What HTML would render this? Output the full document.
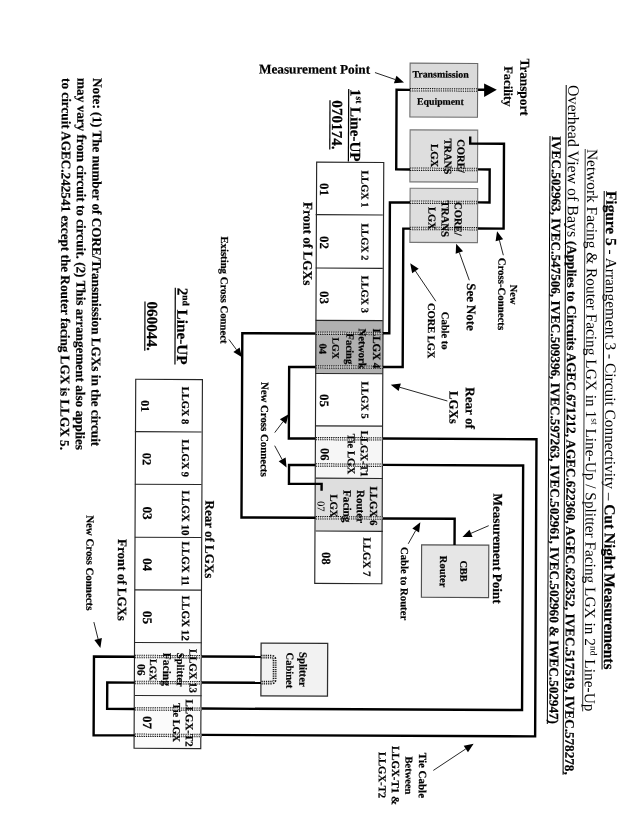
<!DOCTYPE html>
<html><head><meta charset="utf-8"><title>Figure 5</title>
<style>
html,body{margin:0;padding:0;background:#fff;}
body{width:636px;height:836px;overflow:hidden;}
svg{display:block;font-family:"Liberation Serif",serif;filter:grayscale(1) blur(0.3px);}
text{white-space:pre;}
</style></head><body>
<svg width="636" height="836" viewBox="0 0 636 836">
<rect width="636" height="836" fill="#fff"/>
<g transform="rotate(0.26 318.0 418.0)">
<rect x="408.51" y="62.73" width="67.60" height="53.80" fill="#dadada" stroke="#6a6a6a" stroke-width="1.1"/>
<rect x="408.81" y="129.43" width="67.60" height="52.00" fill="#dedede" stroke="#777" stroke-width="1.1"/>
<rect x="409.08" y="187.83" width="67.60" height="54.10" fill="#dedede" stroke="#777" stroke-width="1.1"/>
<rect x="422.19" y="544.38" width="67.20" height="52.40" fill="#e6e6e6" stroke="#505050" stroke-width="1.15"/>
<rect x="262.14" y="643.40" width="66.60" height="52.80" fill="#f2f2f2" stroke="#2e2e2e" stroke-width="1.25"/>
<rect x="315.38" y="320.36" width="67.10" height="53.10" fill="#b0b0b0" stroke="none" stroke-width="1"/>
<rect x="315.85" y="425.86" width="67.10" height="52.30" fill="#f6f6f6" stroke="none" stroke-width="1"/>
<rect x="316.09" y="478.16" width="67.10" height="52.90" fill="#dedede" stroke="none" stroke-width="1"/>
<rect x="136.04" y="643.28" width="66.70" height="53.00" fill="#fafafa" stroke="none" stroke-width="1"/>
<rect x="136.28" y="696.28" width="66.70" height="52.80" fill="#fbfbfb" stroke="none" stroke-width="1"/>
<rect x="315.50" y="162.16" width="67.10" height="421.30" fill="none" stroke="#262626" stroke-width="1.15"/>
<path d="M314.78,214.66 L381.88,214.66" fill="none" stroke="#262626" stroke-width="1.1" stroke-linejoin="miter" stroke-linecap="butt" />
<path d="M315.02,268.06 L382.12,268.06" fill="none" stroke="#262626" stroke-width="1.1" stroke-linejoin="miter" stroke-linecap="butt" />
<path d="M315.26,320.36 L382.36,320.36" fill="none" stroke="#262626" stroke-width="1.1" stroke-linejoin="miter" stroke-linecap="butt" />
<path d="M315.50,373.46 L382.60,373.46" fill="none" stroke="#262626" stroke-width="1.1" stroke-linejoin="miter" stroke-linecap="butt" />
<path d="M315.74,425.86 L382.84,425.86" fill="none" stroke="#262626" stroke-width="1.1" stroke-linejoin="miter" stroke-linecap="butt" />
<path d="M315.97,478.16 L383.07,478.16" fill="none" stroke="#262626" stroke-width="1.1" stroke-linejoin="miter" stroke-linecap="butt" />
<path d="M316.21,531.06 L383.31,531.06" fill="none" stroke="#262626" stroke-width="1.1" stroke-linejoin="miter" stroke-linecap="butt" />
<rect x="135.56" y="380.08" width="66.70" height="369.00" fill="none" stroke="#262626" stroke-width="1.15"/>
<path d="M134.96,432.48 L201.66,432.48" fill="none" stroke="#262626" stroke-width="1.1" stroke-linejoin="miter" stroke-linecap="butt" />
<path d="M135.20,485.08 L201.90,485.08" fill="none" stroke="#262626" stroke-width="1.1" stroke-linejoin="miter" stroke-linecap="butt" />
<path d="M135.44,538.08 L202.14,538.08" fill="none" stroke="#262626" stroke-width="1.1" stroke-linejoin="miter" stroke-linecap="butt" />
<path d="M135.68,590.68 L202.38,590.68" fill="none" stroke="#262626" stroke-width="1.1" stroke-linejoin="miter" stroke-linecap="butt" />
<path d="M135.92,643.28 L202.62,643.28" fill="none" stroke="#262626" stroke-width="1.1" stroke-linejoin="miter" stroke-linecap="butt" />
<path d="M136.16,696.28 L202.86,696.28" fill="none" stroke="#262626" stroke-width="1.1" stroke-linejoin="miter" stroke-linecap="butt" />
<path d="M408.51,89.42 L395.09,89.42 L395.09,169.02 L408.87,169.02" fill="none" stroke="#000" stroke-width="2.4" stroke-linejoin="miter" stroke-linecap="butt" />
<path d="M476.11,89.06 L483.51,89.06" fill="none" stroke="#000" stroke-width="2.4" stroke-linejoin="miter" stroke-linecap="butt" />
<polygon points="482.58,82.65 495.31,88.99 482.64,96.15" fill="#000"/>
<path d="M476.47,168.65 L488.55,168.65 L488.55,201.65 L476.62,201.65" fill="none" stroke="#000" stroke-width="2.4" stroke-linejoin="miter" stroke-linecap="butt" />
<path d="M468.94,135.91 L468.94,142.94 L502.75,142.94 L502.75,227.82 L476.74,227.82" fill="none" stroke="#000" stroke-width="2.4" stroke-linejoin="miter" stroke-linecap="butt" />
<path d="M409.02,202.03 L388.92,202.03 L388.92,332.99 L382.41,332.99" fill="none" stroke="#000" stroke-width="2.4" stroke-linejoin="miter" stroke-linecap="butt" />
<path d="M409.14,228.20 L402.45,228.20 L402.45,366.66 L382.57,366.66" fill="none" stroke="#000" stroke-width="2.4" stroke-linejoin="miter" stroke-linecap="butt" />
<path d="M315.32,333.48 L241.93,333.48 L241.93,517.78 L316.15,517.78" fill="none" stroke="#000" stroke-width="2.4" stroke-linejoin="miter" stroke-linecap="butt" />
<path d="M315.47,367.07 L288.93,367.07 L288.93,438.57 L315.79,438.57" fill="none" stroke="#000" stroke-width="2.4" stroke-linejoin="miter" stroke-linecap="butt" />
<path d="M315.91,465.07 L289.26,465.07 L289.26,483.86 L321.91,483.86 L321.91,490.78" fill="none" stroke="#000" stroke-width="2.4" stroke-linejoin="miter" stroke-linecap="butt" />
<path d="M382.89,438.26 L536.57,438.26 L536.57,735.37 L203.04,735.37" fill="none" stroke="#000" stroke-width="2.4" stroke-linejoin="miter" stroke-linecap="butt" />
<path d="M383.01,464.59 L523.37,464.59 L523.37,709.10 L202.92,709.10" fill="none" stroke="#000" stroke-width="2.4" stroke-linejoin="miter" stroke-linecap="butt" />
<path d="M383.26,518.14 L455.11,518.14 L455.11,544.38" fill="none" stroke="#000" stroke-width="2.4" stroke-linejoin="miter" stroke-linecap="butt" />
<path d="M202.68,656.99 L262.08,656.99" fill="none" stroke="#000" stroke-width="2.4" stroke-linejoin="miter" stroke-linecap="butt" />
<path d="M202.80,682.99 L262.20,682.99" fill="none" stroke="#000" stroke-width="2.4" stroke-linejoin="miter" stroke-linecap="butt" />
<path d="M135.98,657.52 L95.06,657.52 L95.06,736.22 L136.34,736.22" fill="none" stroke="#000" stroke-width="2.4" stroke-linejoin="miter" stroke-linecap="butt" />
<path d="M136.10,683.49 L108.46,683.49 L108.46,709.79 L136.22,709.79" fill="none" stroke="#000" stroke-width="2.4" stroke-linejoin="miter" stroke-linecap="butt" />
<line x1="408.5" y1="89.3" x2="476.1" y2="89.3" stroke="#fff" stroke-width="3.4" opacity="0.4"/>
<line x1="408.5" y1="88.1" x2="476.1" y2="88.1" stroke="#111" stroke-width="1" stroke-dasharray="1.3 0.9"/>
<line x1="408.5" y1="90.5" x2="476.1" y2="90.5" stroke="#111" stroke-width="1" stroke-dasharray="1.3 0.9"/>
<line x1="408.5" y1="89.3" x2="476.1" y2="89.3" stroke="#333" stroke-width="1.2" stroke-dasharray="0.7 1.5" opacity="0.7"/>
<line x1="408.9" y1="168.8" x2="476.5" y2="168.8" stroke="#fff" stroke-width="3.4" opacity="0.4"/>
<line x1="408.9" y1="167.6" x2="476.5" y2="167.6" stroke="#111" stroke-width="1" stroke-dasharray="1.3 0.9"/>
<line x1="408.9" y1="170.0" x2="476.5" y2="170.0" stroke="#111" stroke-width="1" stroke-dasharray="1.3 0.9"/>
<line x1="408.9" y1="168.8" x2="476.5" y2="168.8" stroke="#333" stroke-width="1.2" stroke-dasharray="0.7 1.5" opacity="0.7"/>
<line x1="409.0" y1="201.8" x2="476.6" y2="201.8" stroke="#fff" stroke-width="3.4" opacity="0.4"/>
<line x1="409.0" y1="200.6" x2="476.6" y2="200.6" stroke="#111" stroke-width="1" stroke-dasharray="1.3 0.9"/>
<line x1="409.0" y1="203.0" x2="476.6" y2="203.0" stroke="#111" stroke-width="1" stroke-dasharray="1.3 0.9"/>
<line x1="409.0" y1="201.8" x2="476.6" y2="201.8" stroke="#333" stroke-width="1.2" stroke-dasharray="0.7 1.5" opacity="0.7"/>
<line x1="409.1" y1="228.0" x2="476.7" y2="228.0" stroke="#fff" stroke-width="3.4" opacity="0.4"/>
<line x1="409.1" y1="226.8" x2="476.7" y2="226.8" stroke="#111" stroke-width="1" stroke-dasharray="1.3 0.9"/>
<line x1="409.1" y1="229.2" x2="476.7" y2="229.2" stroke="#111" stroke-width="1" stroke-dasharray="1.3 0.9"/>
<line x1="409.1" y1="228.0" x2="476.7" y2="228.0" stroke="#333" stroke-width="1.2" stroke-dasharray="0.7 1.5" opacity="0.7"/>
<line x1="315.3" y1="333.2" x2="382.4" y2="333.2" stroke="#fff" stroke-width="3.4" opacity="0.4"/>
<line x1="315.3" y1="332.0" x2="382.4" y2="332.0" stroke="#111" stroke-width="1" stroke-dasharray="1.3 0.9"/>
<line x1="315.3" y1="334.4" x2="382.4" y2="334.4" stroke="#111" stroke-width="1" stroke-dasharray="1.3 0.9"/>
<line x1="315.3" y1="333.2" x2="382.4" y2="333.2" stroke="#333" stroke-width="1.2" stroke-dasharray="0.7 1.5" opacity="0.7"/>
<line x1="315.5" y1="366.9" x2="382.6" y2="366.9" stroke="#fff" stroke-width="3.4" opacity="0.4"/>
<line x1="315.5" y1="365.7" x2="382.6" y2="365.7" stroke="#111" stroke-width="1" stroke-dasharray="1.3 0.9"/>
<line x1="315.5" y1="368.1" x2="382.6" y2="368.1" stroke="#111" stroke-width="1" stroke-dasharray="1.3 0.9"/>
<line x1="315.5" y1="366.9" x2="382.6" y2="366.9" stroke="#333" stroke-width="1.2" stroke-dasharray="0.7 1.5" opacity="0.7"/>
<line x1="315.8" y1="438.6" x2="382.9" y2="438.6" stroke="#fff" stroke-width="3.4" opacity="0.4"/>
<line x1="315.8" y1="437.4" x2="382.9" y2="437.4" stroke="#111" stroke-width="1" stroke-dasharray="1.3 0.9"/>
<line x1="315.8" y1="439.8" x2="382.9" y2="439.8" stroke="#111" stroke-width="1" stroke-dasharray="1.3 0.9"/>
<line x1="315.8" y1="438.6" x2="382.9" y2="438.6" stroke="#333" stroke-width="1.2" stroke-dasharray="0.7 1.5" opacity="0.7"/>
<line x1="315.9" y1="465.0" x2="383.0" y2="465.0" stroke="#fff" stroke-width="3.4" opacity="0.4"/>
<line x1="315.9" y1="463.8" x2="383.0" y2="463.8" stroke="#111" stroke-width="1" stroke-dasharray="1.3 0.9"/>
<line x1="315.9" y1="466.2" x2="383.0" y2="466.2" stroke="#111" stroke-width="1" stroke-dasharray="1.3 0.9"/>
<line x1="315.9" y1="465.0" x2="383.0" y2="465.0" stroke="#333" stroke-width="1.2" stroke-dasharray="0.7 1.5" opacity="0.7"/>
<line x1="316.2" y1="517.7" x2="383.3" y2="517.7" stroke="#fff" stroke-width="3.4" opacity="0.4"/>
<line x1="316.2" y1="516.5" x2="383.3" y2="516.5" stroke="#111" stroke-width="1" stroke-dasharray="1.3 0.9"/>
<line x1="316.2" y1="518.9" x2="383.3" y2="518.9" stroke="#111" stroke-width="1" stroke-dasharray="1.3 0.9"/>
<line x1="316.2" y1="517.7" x2="383.3" y2="517.7" stroke="#333" stroke-width="1.2" stroke-dasharray="0.7 1.5" opacity="0.7"/>
<line x1="136.0" y1="657.3" x2="202.7" y2="657.3" stroke="#fff" stroke-width="3.4" opacity="0.4"/>
<line x1="136.0" y1="656.1" x2="202.7" y2="656.1" stroke="#111" stroke-width="1" stroke-dasharray="1.3 0.9"/>
<line x1="136.0" y1="658.5" x2="202.7" y2="658.5" stroke="#111" stroke-width="1" stroke-dasharray="1.3 0.9"/>
<line x1="136.0" y1="657.3" x2="202.7" y2="657.3" stroke="#333" stroke-width="1.2" stroke-dasharray="0.7 1.5" opacity="0.7"/>
<line x1="136.1" y1="683.3" x2="202.8" y2="683.3" stroke="#fff" stroke-width="3.4" opacity="0.4"/>
<line x1="136.1" y1="682.1" x2="202.8" y2="682.1" stroke="#111" stroke-width="1" stroke-dasharray="1.3 0.9"/>
<line x1="136.1" y1="684.5" x2="202.8" y2="684.5" stroke="#111" stroke-width="1" stroke-dasharray="1.3 0.9"/>
<line x1="136.1" y1="683.3" x2="202.8" y2="683.3" stroke="#333" stroke-width="1.2" stroke-dasharray="0.7 1.5" opacity="0.7"/>
<line x1="136.2" y1="709.7" x2="202.9" y2="709.7" stroke="#fff" stroke-width="3.4" opacity="0.4"/>
<line x1="136.2" y1="708.5" x2="202.9" y2="708.5" stroke="#111" stroke-width="1" stroke-dasharray="1.3 0.9"/>
<line x1="136.2" y1="710.9" x2="202.9" y2="710.9" stroke="#111" stroke-width="1" stroke-dasharray="1.3 0.9"/>
<line x1="136.2" y1="709.7" x2="202.9" y2="709.7" stroke="#333" stroke-width="1.2" stroke-dasharray="0.7 1.5" opacity="0.7"/>
<line x1="136.3" y1="736.1" x2="203.0" y2="736.1" stroke="#fff" stroke-width="3.4" opacity="0.4"/>
<line x1="136.3" y1="734.9" x2="203.0" y2="734.9" stroke="#111" stroke-width="1" stroke-dasharray="1.3 0.9"/>
<line x1="136.3" y1="737.3" x2="203.0" y2="737.3" stroke="#111" stroke-width="1" stroke-dasharray="1.3 0.9"/>
<line x1="136.3" y1="736.1" x2="203.0" y2="736.1" stroke="#333" stroke-width="1.2" stroke-dasharray="0.7 1.5" opacity="0.7"/>
<path d="M262.28,656.96 L272.28,656.91 Q275.68,656.89 275.70,660.29 L275.79,679.49 Q275.80,682.89 272.40,682.91 L262.40,682.96" fill="none" stroke="#111" stroke-width="3.8" stroke-dasharray="1.25 0.95"/>
<path d="M262.28,656.96 L272.28,656.91 Q275.68,656.89 275.70,660.29 L275.79,679.49 Q275.80,682.89 272.40,682.91 L262.40,682.96" fill="none" stroke="#f2f2f2" stroke-width="1.3" opacity="0.6"/>
<line x1="373.4" y1="72.3" x2="393.7" y2="79.2" stroke="#000" stroke-width="0.85"/>
<polygon points="402.5,82.2 392.4,82.9 394.9,75.5" fill="#000"/>
<line x1="502.6" y1="254.4" x2="498.6" y2="239.4" stroke="#000" stroke-width="0.85"/>
<polygon points="496.2,230.4 502.3,238.4 494.8,240.4" fill="#000"/>
<line x1="468.7" y1="279.6" x2="458.6" y2="251.9" stroke="#000" stroke-width="0.85"/>
<polygon points="455.4,243.2 462.3,250.6 454.9,253.2" fill="#000"/>
<line x1="435.3" y1="300.7" x2="414.7" y2="270.5" stroke="#000" stroke-width="0.85"/>
<polygon points="409.5,262.8 418.0,268.3 411.5,272.7" fill="#000"/>
<line x1="447.3" y1="400.4" x2="399.6" y2="386.9" stroke="#000" stroke-width="0.85"/>
<polygon points="390.6,384.4 400.7,383.2 398.5,390.7" fill="#000"/>
<line x1="228.6" y1="339.9" x2="236.2" y2="350.1" stroke="#000" stroke-width="0.85"/>
<polygon points="241.7,357.5 233.1,352.4 239.3,347.8" fill="#000"/>
<line x1="274.8" y1="432.8" x2="283.0" y2="421.9" stroke="#000" stroke-width="0.85"/>
<polygon points="288.6,414.4 286.1,424.2 279.9,419.5" fill="#000"/>
<line x1="274.8" y1="445.9" x2="282.3" y2="459.6" stroke="#000" stroke-width="0.85"/>
<polygon points="286.8,467.7 278.9,461.5 285.8,457.7" fill="#000"/>
<line x1="489.2" y1="524.9" x2="471.6" y2="532.6" stroke="#000" stroke-width="0.85"/>
<polygon points="463.0,536.3 470.0,529.0 473.1,536.2" fill="#000"/>
<line x1="408.8" y1="543.4" x2="416.2" y2="530.1" stroke="#000" stroke-width="0.85"/>
<polygon points="420.8,521.9 419.6,532.0 412.8,528.1" fill="#000"/>
<line x1="434.9" y1="769.9" x2="467.3" y2="748.2" stroke="#000" stroke-width="0.85"/>
<polygon points="475.1,743.1 469.5,751.5 465.2,745.0" fill="#000"/>
<line x1="94.8" y1="623.1" x2="99.1" y2="640.0" stroke="#000" stroke-width="0.85"/>
<polygon points="101.4,649.0 95.4,640.9 102.9,639.0" fill="#000"/>
<text transform="translate(605.17,189.69) rotate(90)" font-size="15.36" font-weight="bold" stroke="#000" stroke-width="0.2" textLength="54.7" lengthAdjust="spacingAndGlyphs" fill="#000">Figure 5</text>
<text transform="translate(605.17,244.44) rotate(90)" font-size="15.36" textLength="258.5" lengthAdjust="spacingAndGlyphs" fill="#000"> - Arrangement 3 - Circuit Connectivity – </text>
<text transform="translate(605.17,502.95) rotate(90)" font-size="15.36" font-weight="bold" stroke="#000" stroke-width="0.2" textLength="165.2" lengthAdjust="spacingAndGlyphs" fill="#000">Cut Night Measurements</text>
<path d="M603.17,189.69 L603.17,668.19" fill="none" stroke="#000" stroke-width="1.0" stroke-linejoin="miter" stroke-linecap="butt" />
<text transform="translate(585.98,147.78) rotate(90)" font-size="15.36" textLength="269.2" lengthAdjust="spacingAndGlyphs" fill="#000">Network Facing &amp; Router Facing LGX in 1</text>
<text transform="translate(591.51,416.99) rotate(90)" font-size="9.52" textLength="6.4" lengthAdjust="spacingAndGlyphs" fill="#000">st</text>
<text transform="translate(585.98,423.34) rotate(90)" font-size="15.36" textLength="221.4" lengthAdjust="spacingAndGlyphs" fill="#000"> Line-Up / Splitter Facing LGX in 2</text>
<text transform="translate(591.51,644.78) rotate(90)" font-size="9.52" textLength="9.5" lengthAdjust="spacingAndGlyphs" fill="#000">nd</text>
<text transform="translate(585.98,654.30) rotate(90)" font-size="15.36" textLength="55.9" lengthAdjust="spacingAndGlyphs" fill="#000"> Line-Up</text>
<path d="M583.98,147.78 L583.98,710.18" fill="none" stroke="#000" stroke-width="0.8" stroke-linejoin="miter" stroke-linecap="butt" />
<text transform="translate(566.69,83.87) rotate(90)" font-size="15.92" textLength="152.2" lengthAdjust="spacingAndGlyphs" fill="#000">Overhead View of Bays</text>
<text transform="translate(566.69,239.77) rotate(90)" font-size="13.16" font-weight="bold" stroke="#000" stroke-width="0.2" textLength="533.8" lengthAdjust="spacingAndGlyphs" fill="#000">(Applies to Circuits AGEC.671212, AGEC.622360, AGEC.622352, IVEC.517519, IVEC.578278,</text>
<path d="M564.69,83.88 L564.69,773.58" fill="none" stroke="#000" stroke-width="1.0" stroke-linejoin="miter" stroke-linecap="butt" />
<text transform="translate(550.72,134.94) rotate(90)" font-size="13.16" font-weight="bold" stroke="#000" stroke-width="0.2" textLength="588.0" lengthAdjust="spacingAndGlyphs" fill="#000">IVEC.502963, IVEC.547506, IVEC.509396, IVEC.597263, IVEC.502961, IVEC.502960 &amp; IWEC.502947)</text>
<path d="M548.72,134.94 L548.72,722.94" fill="none" stroke="#000" stroke-width="1.0" stroke-linejoin="miter" stroke-linecap="butt" />
<text transform="translate(91.46,79.12) rotate(90)" font-size="13.17" font-weight="bold" stroke="#000" stroke-width="0.2" textLength="368.1" lengthAdjust="spacingAndGlyphs" fill="#000">Note: (1) The number of CORE/Transmission LGXs in the circuit</text>
<text transform="translate(75.86,79.20) rotate(90)" font-size="13.17" font-weight="bold" stroke="#000" stroke-width="0.2" textLength="371.9" lengthAdjust="spacingAndGlyphs" fill="#000">may vary from circuit to circuit. (2) This arrangement also applies</text>
<text transform="translate(60.46,79.27) rotate(90)" font-size="13.17" font-weight="bold" stroke="#000" stroke-width="0.2" textLength="371.9" lengthAdjust="spacingAndGlyphs" fill="#000">to circuit AGEC.242541 except the Router facing LGX is LLGX 5.</text>
<text transform="translate(349.11,88.86) rotate(90)" font-size="15.10" font-weight="bold" stroke="#000" stroke-width="0.2" textLength="7.5" lengthAdjust="spacingAndGlyphs" fill="#000">1</text>
<text transform="translate(354.54,96.40) rotate(90)" font-size="9.36" font-weight="bold" stroke="#000" stroke-width="0.2" textLength="6.8" lengthAdjust="spacingAndGlyphs" fill="#000">st</text>
<text transform="translate(349.11,103.16) rotate(90)" font-size="15.10" font-weight="bold" stroke="#000" stroke-width="0.2" textLength="58.3" lengthAdjust="spacingAndGlyphs" fill="#000"> Line-UP</text>
<path d="M347.21,88.86 L347.21,161.46" fill="none" stroke="#000" stroke-width="1.2" stroke-linejoin="miter" stroke-linecap="butt" />
<text transform="translate(330.76,100.24) rotate(90)" font-size="15.17" font-weight="bold" stroke="#000" stroke-width="0.2" textLength="49.3" lengthAdjust="spacingAndGlyphs" fill="#000">070174.</text>
<path d="M328.56,100.24 L328.56,149.54" fill="none" stroke="#000" stroke-width="1.2" stroke-linejoin="miter" stroke-linecap="butt" />
<text transform="translate(176.81,288.34) rotate(90)" font-size="15.23" font-weight="bold" stroke="#000" stroke-width="0.2" textLength="7.6" lengthAdjust="spacingAndGlyphs" fill="#000">2</text>
<text transform="translate(182.29,295.95) rotate(90)" font-size="9.44" font-weight="bold" stroke="#000" stroke-width="0.2" textLength="10.5" lengthAdjust="spacingAndGlyphs" fill="#000">nd</text>
<text transform="translate(176.81,306.45) rotate(90)" font-size="15.23" font-weight="bold" stroke="#000" stroke-width="0.2" textLength="58.8" lengthAdjust="spacingAndGlyphs" fill="#000"> Line-UP</text>
<path d="M174.71,288.34 L174.71,365.24" fill="none" stroke="#000" stroke-width="1.2" stroke-linejoin="miter" stroke-linecap="butt" />
<text transform="translate(146.67,302.28) rotate(90)" font-size="15.17" font-weight="bold" stroke="#000" stroke-width="0.2" textLength="49.3" lengthAdjust="spacingAndGlyphs" fill="#000">060044.</text>
<path d="M144.47,302.28 L144.47,351.58" fill="none" stroke="#000" stroke-width="1.2" stroke-linejoin="miter" stroke-linecap="butt" />
<text x="257.34" y="73.67" font-size="13.24" font-weight="bold" stroke="#000" stroke-width="0.2" textLength="111.2" lengthAdjust="spacingAndGlyphs" fill="#000">Measurement Point</text>
<text x="410.85" y="77.08" font-size="9.89" font-weight="bold" stroke="#000" stroke-width="0.2" textLength="56.4" lengthAdjust="spacingAndGlyphs" fill="#000">Transmission</text>
<text x="415.58" y="104.25" font-size="9.79" font-weight="bold" stroke="#000" stroke-width="0.2" textLength="46.8" lengthAdjust="spacingAndGlyphs" fill="#000">Equipment</text>
<text transform="translate(518.77,57.49) rotate(90)" font-size="13.28" font-weight="bold" stroke="#000" stroke-width="0.2" textLength="57.3" lengthAdjust="spacingAndGlyphs" fill="#000">Transport</text>
<text transform="translate(502.60,65.36) rotate(90)" font-size="12.51" font-weight="bold" stroke="#000" stroke-width="0.2" textLength="40.3" lengthAdjust="spacingAndGlyphs" fill="#000">Facility</text>
<text transform="translate(456.33,138.57) rotate(90)" font-size="10.61" font-weight="bold" stroke="#000" stroke-width="0.2" textLength="33.6" lengthAdjust="spacingAndGlyphs" fill="#000">CORE/</text>
<text transform="translate(443.23,137.93) rotate(90)" font-size="10.56" font-weight="bold" stroke="#000" stroke-width="0.2" textLength="35.8" lengthAdjust="spacingAndGlyphs" fill="#000">TRANS</text>
<text transform="translate(429.86,143.59) rotate(90)" font-size="10.71" font-weight="bold" stroke="#000" stroke-width="0.2" textLength="23.2" lengthAdjust="spacingAndGlyphs" fill="#000">LGX</text>
<text transform="translate(453.72,201.38) rotate(90)" font-size="10.61" font-weight="bold" stroke="#000" stroke-width="0.2" textLength="33.6" lengthAdjust="spacingAndGlyphs" fill="#000">CORE/</text>
<text transform="translate(440.71,199.94) rotate(90)" font-size="10.80" font-weight="bold" stroke="#000" stroke-width="0.2" textLength="36.6" lengthAdjust="spacingAndGlyphs" fill="#000">TRANS</text>
<text transform="translate(427.54,206.40) rotate(90)" font-size="10.52" font-weight="bold" stroke="#000" stroke-width="0.2" textLength="22.8" lengthAdjust="spacingAndGlyphs" fill="#000">LGX</text>
<text transform="translate(509.59,283.93) rotate(90)" font-size="10.38" font-weight="bold" stroke="#000" stroke-width="0.2" textLength="19.6" lengthAdjust="spacingAndGlyphs" fill="#000">New</text>
<text transform="translate(497.67,256.88) rotate(90)" font-size="10.80" font-weight="bold" stroke="#000" stroke-width="0.2" textLength="72.4" lengthAdjust="spacingAndGlyphs" fill="#000">Cross-Connects</text>
<text transform="translate(466.39,282.63) rotate(90)" font-size="12.84" font-weight="bold" stroke="#000" stroke-width="0.2" textLength="47.4" lengthAdjust="spacingAndGlyphs" fill="#000">See Note</text>
<text transform="translate(441.32,311.24) rotate(90)" font-size="10.55" font-weight="bold" stroke="#000" stroke-width="0.2" textLength="37.8" lengthAdjust="spacingAndGlyphs" fill="#000">Cable to</text>
<text transform="translate(427.48,302.50) rotate(90)" font-size="10.44" font-weight="bold" stroke="#000" stroke-width="0.2" textLength="55.4" lengthAdjust="spacingAndGlyphs" fill="#000">CORE LGX</text>
<text transform="translate(465.66,386.53) rotate(90)" font-size="13.10" font-weight="bold" stroke="#000" stroke-width="0.2" textLength="41.6" lengthAdjust="spacingAndGlyphs" fill="#000">Rear of</text>
<text transform="translate(449.48,390.40) rotate(90)" font-size="12.83" font-weight="bold" stroke="#000" stroke-width="0.2" textLength="32.8" lengthAdjust="spacingAndGlyphs" fill="#000">LGXs</text>
<text transform="translate(493.74,492.70) rotate(90)" font-size="13.12" font-weight="bold" stroke="#000" stroke-width="0.2" textLength="110.2" lengthAdjust="spacingAndGlyphs" fill="#000">Measurement Point</text>
<text transform="translate(460.84,559.75) rotate(90)" font-size="10.31" font-weight="bold" stroke="#000" stroke-width="0.2" textLength="21.2" lengthAdjust="spacingAndGlyphs" fill="#000">CBB</text>
<text transform="translate(440.62,555.24) rotate(90)" font-size="10.54" font-weight="bold" stroke="#000" stroke-width="0.2" textLength="31.6" lengthAdjust="spacingAndGlyphs" fill="#000">Router</text>
<text transform="translate(401.58,546.62) rotate(90)" font-size="10.71" font-weight="bold" stroke="#000" stroke-width="0.2" textLength="73.2" lengthAdjust="spacingAndGlyphs" fill="#000">Cable to Router</text>
<text transform="translate(420.52,752.34) rotate(90)" font-size="10.97" font-weight="bold" stroke="#000" stroke-width="0.2" textLength="45.2" lengthAdjust="spacingAndGlyphs" fill="#000">Tie Cable</text>
<text transform="translate(407.04,756.20) rotate(90)" font-size="10.47" font-weight="bold" stroke="#000" stroke-width="0.2" textLength="37.8" lengthAdjust="spacingAndGlyphs" fill="#000">Between</text>
<text transform="translate(393.49,745.66) rotate(90)" font-size="10.89" font-weight="bold" stroke="#000" stroke-width="0.2" textLength="59.0" lengthAdjust="spacingAndGlyphs" fill="#000">LLGX-T1 &amp;</text>
<text transform="translate(380.31,751.62) rotate(90)" font-size="10.66" font-weight="bold" stroke="#000" stroke-width="0.2" textLength="46.2" lengthAdjust="spacingAndGlyphs" fill="#000">LLGX-T2</text>
<text transform="translate(300.56,652.08) rotate(90)" font-size="10.80" font-weight="bold" stroke="#000" stroke-width="0.2" textLength="34.8" lengthAdjust="spacingAndGlyphs" fill="#000">Splitter</text>
<text transform="translate(287.46,652.74) rotate(90)" font-size="10.50" font-weight="bold" stroke="#000" stroke-width="0.2" textLength="35.6" lengthAdjust="spacingAndGlyphs" fill="#000">Cabinet</text>
<text transform="translate(302.62,201.97) rotate(90)" font-size="13.21" font-weight="bold" stroke="#000" stroke-width="0.2" textLength="83.4" lengthAdjust="spacingAndGlyphs" fill="#000">Front of LGXs</text>
<text transform="translate(220.18,236.84) rotate(90)" font-size="10.74" font-weight="bold" stroke="#000" stroke-width="0.2" textLength="107.2" lengthAdjust="spacingAndGlyphs" fill="#000">Existing Cross Connect</text>
<text transform="translate(261.04,382.16) rotate(90)" font-size="10.82" font-weight="bold" stroke="#000" stroke-width="0.2" textLength="94.8" lengthAdjust="spacingAndGlyphs" fill="#000">New Cross Connects</text>
<text transform="translate(205.78,501.11) rotate(90)" font-size="12.97" font-weight="bold" stroke="#000" stroke-width="0.2" textLength="77.6" lengthAdjust="spacingAndGlyphs" fill="#000">Rear of LGXs</text>
<text transform="translate(118.55,540.01) rotate(90)" font-size="12.95" font-weight="bold" stroke="#000" stroke-width="0.2" textLength="81.8" lengthAdjust="spacingAndGlyphs" fill="#000">Front of LGXs</text>
<text transform="translate(87.04,516.25) rotate(90)" font-size="10.87" font-weight="bold" stroke="#000" stroke-width="0.2" textLength="95.2" lengthAdjust="spacingAndGlyphs" fill="#000">New Cross Connects</text>
<text transform="translate(360.48,170.20) rotate(90)" font-size="10.32" font-weight="bold" stroke="#000" stroke-width="0.2" textLength="37.0" lengthAdjust="spacingAndGlyphs" fill="#000">LLGX 1</text>
<text transform="translate(318.93,182.99) rotate(90)" font-size="12.80" font-weight="bold" stroke="#000" stroke-width="0.2" textLength="12.8" lengthAdjust="spacingAndGlyphs" fill="#000">01</text>
<text transform="translate(360.72,223.20) rotate(90)" font-size="10.32" font-weight="bold" stroke="#000" stroke-width="0.2" textLength="37.0" lengthAdjust="spacingAndGlyphs" fill="#000">LLGX 2</text>
<text transform="translate(319.17,235.99) rotate(90)" font-size="12.80" font-weight="bold" stroke="#000" stroke-width="0.2" textLength="12.8" lengthAdjust="spacingAndGlyphs" fill="#000">02</text>
<text transform="translate(360.95,275.60) rotate(90)" font-size="10.32" font-weight="bold" stroke="#000" stroke-width="0.2" textLength="37.0" lengthAdjust="spacingAndGlyphs" fill="#000">LLGX 3</text>
<text transform="translate(319.42,290.99) rotate(90)" font-size="12.80" font-weight="bold" stroke="#000" stroke-width="0.2" textLength="12.8" lengthAdjust="spacingAndGlyphs" fill="#000">03</text>
<text transform="translate(372.59,328.55) rotate(90)" font-size="11.05" font-weight="bold" stroke="#000" stroke-width="0.2" textLength="39.6" lengthAdjust="spacingAndGlyphs" fill="#000">LLGX 4</text>
<text transform="translate(358.39,328.22) rotate(90)" font-size="10.86" font-weight="bold" stroke="#000" stroke-width="0.2" textLength="40.4" lengthAdjust="spacingAndGlyphs" fill="#000">Network</text>
<text transform="translate(346.02,333.17) rotate(90)" font-size="10.80" font-weight="bold" stroke="#000" stroke-width="0.2" textLength="31.2" lengthAdjust="spacingAndGlyphs" fill="#000">Facing</text>
<text transform="translate(332.24,337.53) rotate(90)" font-size="9.78" font-weight="bold" stroke="#000" stroke-width="0.2" textLength="21.2" lengthAdjust="spacingAndGlyphs" fill="#000">LGX</text>
<text transform="translate(319.06,343.39) rotate(90)" font-size="10.60" font-weight="bold" stroke="#000" stroke-width="0.2" textLength="10.6" lengthAdjust="spacingAndGlyphs" fill="#000">04</text>
<text transform="translate(361.43,381.40) rotate(90)" font-size="10.32" font-weight="bold" stroke="#000" stroke-width="0.2" textLength="37.0" lengthAdjust="spacingAndGlyphs" fill="#000">LLGX 5</text>
<text transform="translate(319.89,393.99) rotate(90)" font-size="12.80" font-weight="bold" stroke="#000" stroke-width="0.2" textLength="12.8" lengthAdjust="spacingAndGlyphs" fill="#000">05</text>
<text transform="translate(360.96,430.61) rotate(90)" font-size="10.61" font-weight="bold" stroke="#000" stroke-width="0.2" textLength="46.0" lengthAdjust="spacingAndGlyphs" fill="#000">LLGX-T1</text>
<text transform="translate(347.87,433.56) rotate(90)" font-size="10.67" font-weight="bold" stroke="#000" stroke-width="0.2" textLength="40.4" lengthAdjust="spacingAndGlyphs" fill="#000">Tie LGX</text>
<text transform="translate(320.94,447.99) rotate(90)" font-size="12.40" font-weight="bold" stroke="#000" stroke-width="0.2" textLength="12.4" lengthAdjust="spacingAndGlyphs" fill="#000">06</text>
<text transform="translate(370.41,486.36) rotate(90)" font-size="10.83" font-weight="bold" stroke="#000" stroke-width="0.2" textLength="38.8" lengthAdjust="spacingAndGlyphs" fill="#000">LLGX 6</text>
<text transform="translate(357.23,489.72) rotate(90)" font-size="11.07" font-weight="bold" stroke="#000" stroke-width="0.2" textLength="33.2" lengthAdjust="spacingAndGlyphs" fill="#000">Router</text>
<text transform="translate(343.83,489.78) rotate(90)" font-size="11.29" font-weight="bold" stroke="#000" stroke-width="0.2" textLength="32.6" lengthAdjust="spacingAndGlyphs" fill="#000">Facing</text>
<text transform="translate(330.55,494.34) rotate(90)" font-size="10.71" font-weight="bold" stroke="#000" stroke-width="0.2" textLength="23.2" lengthAdjust="spacingAndGlyphs" fill="#000">LGX</text>
<text transform="translate(317.78,501.00) rotate(90)" font-size="10.60" textLength="10.6" lengthAdjust="spacingAndGlyphs" fill="#000">07</text>
<text transform="translate(363.94,537.29) rotate(90)" font-size="10.88" font-weight="bold" stroke="#000" stroke-width="0.2" textLength="39.0" lengthAdjust="spacingAndGlyphs" fill="#000">LLGX 7</text>
<text transform="translate(322.61,551.88) rotate(90)" font-size="12.60" font-weight="bold" stroke="#000" stroke-width="0.2" textLength="12.6" lengthAdjust="spacingAndGlyphs" fill="#000">08</text>
<text transform="translate(181.86,387.42) rotate(90)" font-size="10.44" font-weight="bold" stroke="#000" stroke-width="0.2" textLength="37.4" lengthAdjust="spacingAndGlyphs" fill="#000">LLGX 8</text>
<text transform="translate(141.12,401.00) rotate(90)" font-size="11.80" font-weight="bold" stroke="#000" stroke-width="0.2" textLength="11.8" lengthAdjust="spacingAndGlyphs" fill="#000">01</text>
<text transform="translate(182.10,440.22) rotate(90)" font-size="10.44" font-weight="bold" stroke="#000" stroke-width="0.2" textLength="37.4" lengthAdjust="spacingAndGlyphs" fill="#000">LLGX 9</text>
<text transform="translate(142.96,453.59) rotate(90)" font-size="12.40" font-weight="bold" stroke="#000" stroke-width="0.2" textLength="12.4" lengthAdjust="spacingAndGlyphs" fill="#000">02</text>
<text transform="translate(182.33,491.22) rotate(90)" font-size="11.02" font-weight="bold" stroke="#000" stroke-width="0.2" textLength="45.0" lengthAdjust="spacingAndGlyphs" fill="#000">LLGX 10</text>
<text transform="translate(143.40,507.19) rotate(90)" font-size="13.20" font-weight="bold" stroke="#000" stroke-width="0.2" textLength="13.2" lengthAdjust="spacingAndGlyphs" fill="#000">03</text>
<text transform="translate(182.56,542.22) rotate(90)" font-size="10.97" font-weight="bold" stroke="#000" stroke-width="0.2" textLength="44.2" lengthAdjust="spacingAndGlyphs" fill="#000">LLGX 11</text>
<text transform="translate(143.64,558.79) rotate(90)" font-size="13.20" font-weight="bold" stroke="#000" stroke-width="0.2" textLength="13.2" lengthAdjust="spacingAndGlyphs" fill="#000">04</text>
<text transform="translate(182.81,596.32) rotate(90)" font-size="11.07" font-weight="bold" stroke="#000" stroke-width="0.2" textLength="45.2" lengthAdjust="spacingAndGlyphs" fill="#000">LLGX 12</text>
<text transform="translate(143.88,611.59) rotate(90)" font-size="13.20" font-weight="bold" stroke="#000" stroke-width="0.2" textLength="13.2" lengthAdjust="spacingAndGlyphs" fill="#000">05</text>
<text transform="translate(190.65,649.58) rotate(90)" font-size="10.77" font-weight="bold" stroke="#000" stroke-width="0.2" textLength="44.0" lengthAdjust="spacingAndGlyphs" fill="#000">LLGX 13</text>
<text transform="translate(178.07,653.44) rotate(90)" font-size="10.55" font-weight="bold" stroke="#000" stroke-width="0.2" textLength="34.0" lengthAdjust="spacingAndGlyphs" fill="#000">Splitter</text>
<text transform="translate(164.27,653.50) rotate(90)" font-size="11.49" font-weight="bold" stroke="#000" stroke-width="0.2" textLength="33.2" lengthAdjust="spacingAndGlyphs" fill="#000">Facing</text>
<text transform="translate(151.00,659.76) rotate(90)" font-size="9.97" font-weight="bold" stroke="#000" stroke-width="0.2" textLength="21.6" lengthAdjust="spacingAndGlyphs" fill="#000">LGX</text>
<text transform="translate(138.72,664.82) rotate(90)" font-size="11.40" font-weight="bold" stroke="#000" stroke-width="0.2" textLength="11.4" lengthAdjust="spacingAndGlyphs" fill="#000">06</text>
<text transform="translate(187.08,700.00) rotate(90)" font-size="10.89" font-weight="bold" stroke="#000" stroke-width="0.2" textLength="47.2" lengthAdjust="spacingAndGlyphs" fill="#000">LLGX-T2</text>
<text transform="translate(174.49,703.65) rotate(90)" font-size="10.30" font-weight="bold" stroke="#000" stroke-width="0.2" textLength="39.0" lengthAdjust="spacingAndGlyphs" fill="#000">Tie LGX</text>
<text transform="translate(144.35,716.79) rotate(90)" font-size="12.80" font-weight="bold" stroke="#000" stroke-width="0.2" textLength="12.8" lengthAdjust="spacingAndGlyphs" fill="#000">07</text>
</g>
</svg>
</body></html>
